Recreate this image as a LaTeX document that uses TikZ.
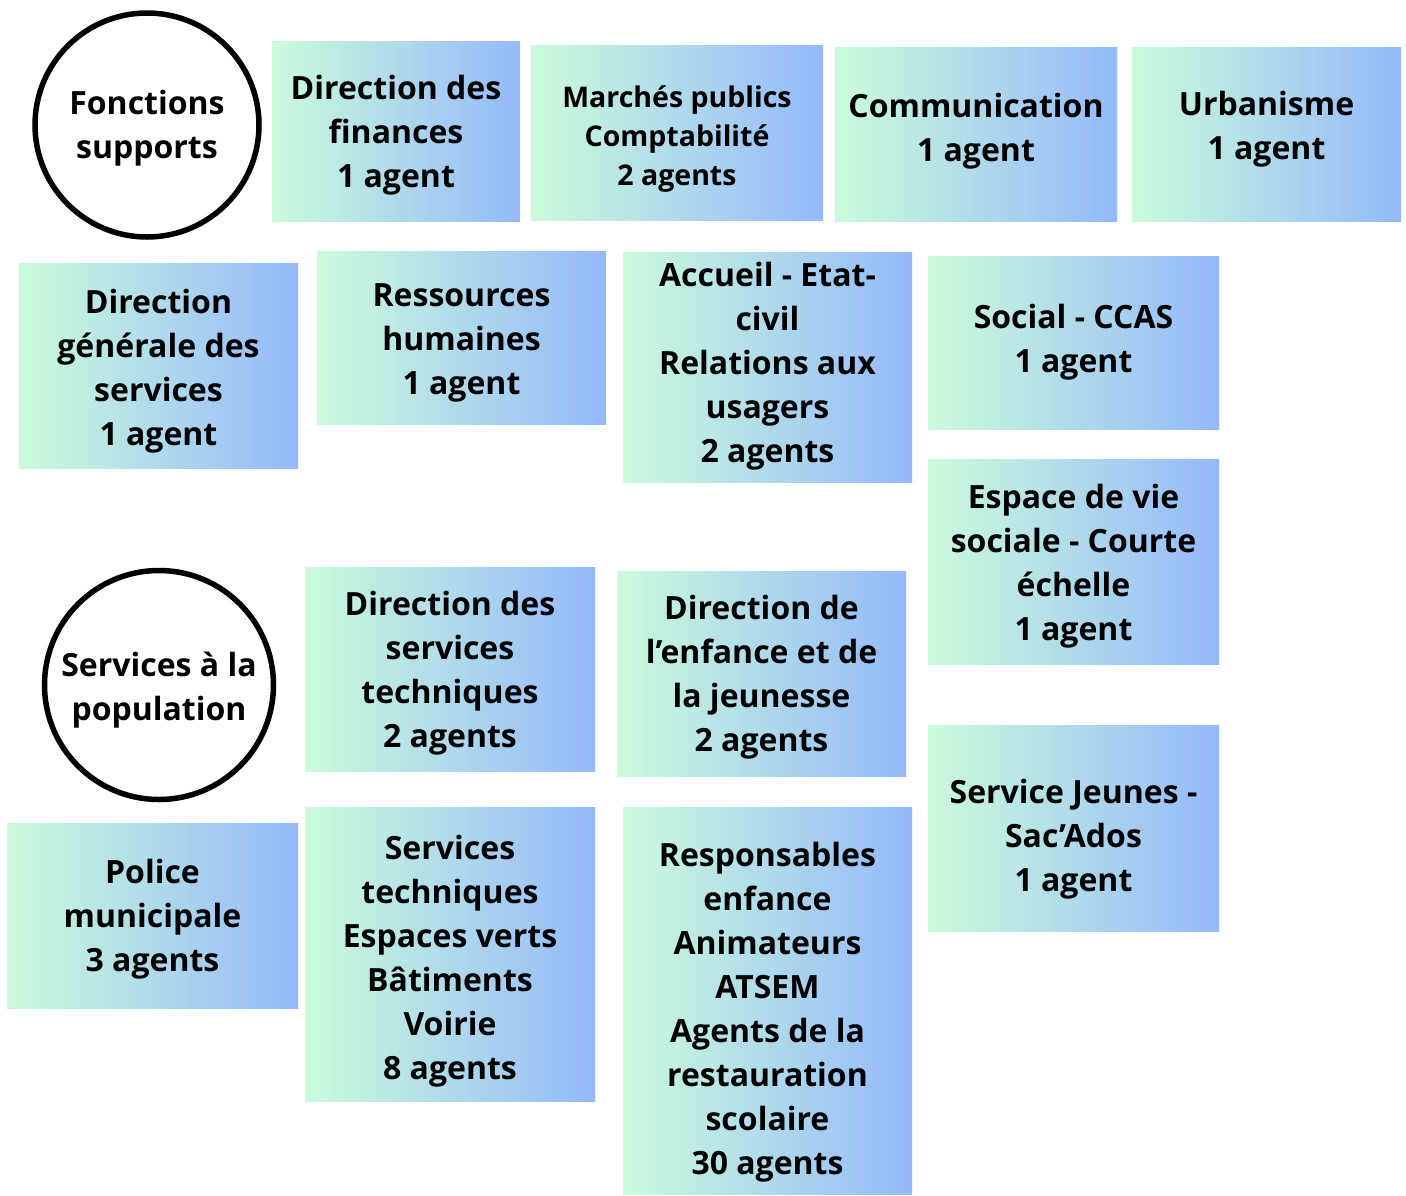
\documentclass[tikz,border=0pt]{standalone}
\usepackage{fontspec}
\setmainfont{Open Sans}
\usepackage{tikz}
\usetikzlibrary{shapes,positioning,calc}
\definecolor{grad_left}{RGB}{203,251,219}
\definecolor{grad_right}{RGB}{148,185,251}
\newcommand{\unitfont}{\fontsize{32}{44}\selectfont\bfseries}
\newcommand{\smallunitfont}{\fontsize{28.5}{39}\selectfont\bfseries}
% name, x, y, width, height, text shift, text
\newcommand{\unitbox}[7]{
	\node[unit_box, minimum width=#4pt, minimum height=#5pt] (u_#1) at (#2,#3) {};
	\node[unit_text] (t_#1) at ($(u_#1)+(0,#6)$) {#7};
}

\begin{document}
\begin{tikzpicture}[x=1pt,y=-1pt]
		\tikzstyle{unit_box}=[rectangle, left color=grad_left, right color=grad_right, inner sep=0pt];
		\tikzstyle{unit_text}=[align=center, inner sep=0pt, font=\unitfont];
		\tikzstyle{group_circle}=[draw, circle, line width=5.5pt, fill=white, inner sep=0pt];

		\useasboundingbox (0,0) rectangle (1406,1195);

		% fonctions supports
		\node[group_circle, minimum size=224pt] (c_fs) at (147,125) {};
		\node[unit_text] (t_fs) at ($(c_fs)+(0,3.5)$) {Fonctions\\supports};
		\unitbox{fin}{396}{131}{248}{180}{4}{Direction des\\finances\\1 agent}
		\node[unit_box, minimum width=292pt, minimum height=175pt] (u_mp) at (677,132.5) {};
		\node[unit_text, font=\smallunitfont] (t_mp) at ($(u_mp)+(0,6.5)$) {Marchés publics\\Comptabilité\\2 agents};
		\unitbox{com}{976}{134}{282}{174}{-2.5}{Communication\\1 agent}
		\unitbox{urb}{1266.5}{134}{269}{174}{-5}{Urbanisme\\1 agent}
		\unitbox{dgs}{158.5}{365.5}{279}{205}{6}{Direction\\générale des\\services\\1 agent}
		\unitbox{rh}{461.5}{337.5}{289}{173}{5}{Ressources\\humaines\\1 agent}
		\unitbox{acc}{767.5}{367}{289}{230}{-1}{Accueil - Etat-\\civil\\Relations aux\\usagers\\2 agents}
		\unitbox{soc}{1073.5}{342.5}{291}{173}{0}{Social - CCAS\\1 agent}
		\unitbox{evs}{1073.5}{561.5}{291}{205}{5}{Espace de vie\\sociale - Courte\\échelle\\1 agent}

		% services a la population
		\node[group_circle, minimum size=229pt] (c_sp) at (159,685) {};
		\node[unit_text] (t_sp) at ($(c_sp)+(0,5)$) {Services à la\\population};
		\unitbox{dst}{450}{669}{290}{204}{4}{Direction des\\services\\techniques\\2 agents}
		\unitbox{enf}{761.5}{673.5}{289}{205}{4}{Direction de\\l’enfance et de\\la jeunesse\\2 agents}
		\unitbox{jeu}{1073.5}{828}{291}{206}{11}{Service Jeunes -\\Sac’Ados\\1 agent}
		\unitbox{pol}{152.5}{915.5}{291}{185}{4}{Police\\municipale\\3 agents}
		\unitbox{st}{450}{954}{290}{294}{7}{Services\\techniques\\Espaces verts\\Bâtiments\\Voirie\\8 agents}
		\unitbox{resp}{767.5}{1000.5}{289}{387}{11.5}{Responsables\\enfance\\Animateurs\\ATSEM\\Agents de la\\restauration\\scolaire\\30 agents}
\end{tikzpicture}
\end{document}
